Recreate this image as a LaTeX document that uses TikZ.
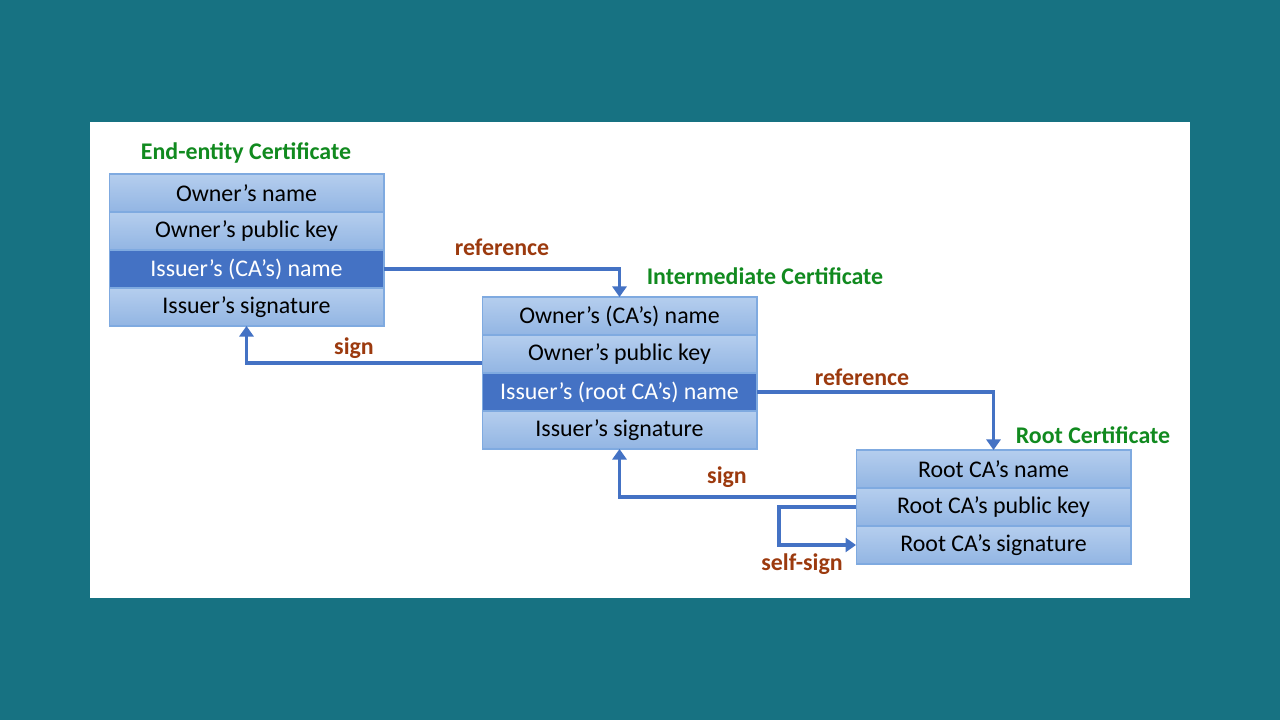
\documentclass[tikz,border=0pt]{standalone}
\usepackage{fontspec}
\setmainfont{Carlito}
\usetikzlibrary{positioning,arrows.meta}
\definecolor{bgteal}{HTML}{177282}
\definecolor{rowtop}{HTML}{B5CEEE}
\definecolor{rowbot}{HTML}{92B5E3}
\definecolor{rowline}{HTML}{7FAAE0}
\definecolor{hilite}{HTML}{4472C4}
\definecolor{linkblue}{HTML}{4472C4}
\definecolor{labred}{HTML}{9C3A0E}
\definecolor{titlegreen}{HTML}{118A1F}

\tikzset{
  row/.style={draw=rowline, line width=0.6pt, top color=rowtop, bottom color=rowbot,
    minimum width=5.5cm, minimum height=0.76cm, inner sep=0pt, outer sep=0pt,
    font=\fontsize{13.6}{16}\selectfont},
  keyrow/.style={row, fill=hilite, top color=hilite, bottom color=hilite, text=white},
  title/.style={text=titlegreen, font=\fontsize{13.6}{16}\selectfont\bfseries},
  lab/.style={text=labred, font=\fontsize{13.6}{16}\selectfont\bfseries},
  link/.style={draw=linkblue, line width=2pt, -{Triangle[width=8pt,length=6pt]}}
}

\begin{document}
\begin{tikzpicture}[x=0.02cm,y=-0.02cm]
\useasboundingbox (0,0) rectangle (1280,720);
\fill[bgteal] (0,0) rectangle (1280,720);
\fill[white] (90,122) rectangle (1190,598);

% end-entity certificate
\node[title] (eetitle) at (246,153) {End-entity Certificate};
\node[row] (ee1) at (246.5,193) {Owner’s name};
\node[row, below=0pt of ee1] (ee2) {Owner’s public key};
\node[keyrow, below=0pt of ee2] (ee3) {Issuer’s (CA’s) name};
\node[row, below=0pt of ee3] (ee4) {Issuer’s signature};

% intermediate certificate
\node[title] (imtitle) at (765,276) {Intermediate Certificate};
\node[row] (im1) at (619.5,316) {Owner’s (CA’s) name};
\node[row, below=0pt of im1] (im2) {Owner’s public key};
\node[keyrow, below=0pt of im2] (im3) {Issuer’s (root CA’s) name};
\node[row, below=0pt of im3] (im4) {Issuer’s signature};

% root certificate
\node[title] (rttitle) at (1093,435) {Root Certificate};
\node[row] (rt1) at (993.5,469) {Root CA’s name};
\node[row, below=0pt of rt1] (rt2) {Root CA’s public key};
\node[row, below=0pt of rt2] (rt3) {Root CA’s signature};

% links
\draw[link] (ee3.east) -| (im1.north);
\draw[link] ([yshift=-0.18cm]im2.west) -| (ee4.south);
\draw[link] (im3.east) -| (rt1.north);
\draw[link] ([yshift=0.2cm]rt2.west) -| (im4.south);
\draw[link] (rt2.west) -- ++(-77,0) |- (rt3.west);

\node[lab] (ref1) at (502,247) {reference};
\node[lab] (sig1) at (354,348) {sign};
\node[lab] (ref2) at (862,377) {reference};
\node[lab] (sig2) at (727,477) {sign};
\node[lab] (self) at (802,564) {self-sign};
\end{tikzpicture}
\end{document}
